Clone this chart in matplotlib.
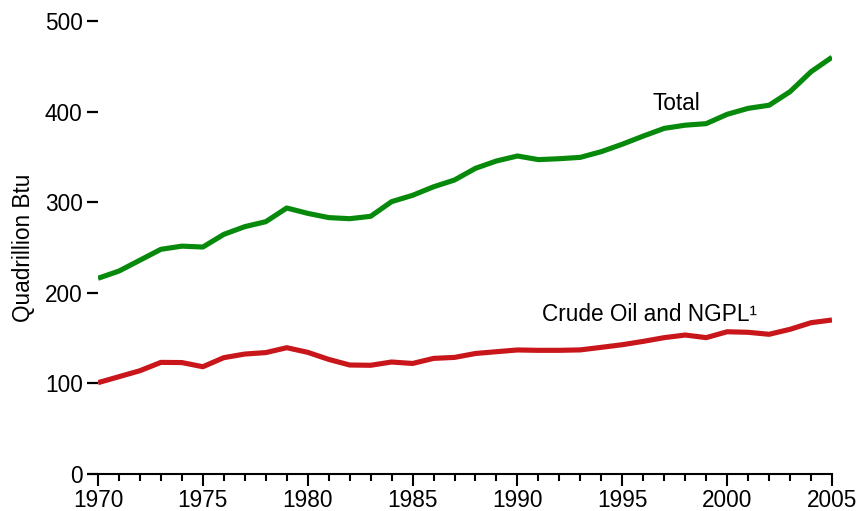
import matplotlib
matplotlib.use("Agg")
import matplotlib.pyplot as plt
from matplotlib.ticker import MultipleLocator

plt.rcParams['font.family'] = ['Liberation Sans', 'DejaVu Sans']

years = list(range(1970, 2006))
total = [216, 224, 236, 248, 251.5, 250.5, 264.5, 273, 278.5, 293.6,
         287.7, 283, 281.8, 284.4, 300.6, 307.6, 317, 324.5, 337.4, 345.5,
         351, 347, 348, 349.5, 355.8, 364, 373, 381.5, 385, 386.7,
         397, 403.6, 407, 422, 444, 460]
crude = [100.8, 107.4, 114, 123.2, 123, 118.4, 128.4, 132.4, 134, 139.4,
         134.3, 126.5, 120.3, 120, 123.6, 122, 127.6, 128.7, 133, 135,
         136.9, 136.5, 136.5, 137, 139.8, 142.7, 146.4, 150.5, 153.4, 150.5,
         157, 156.4, 154.2, 159.7, 167, 170]
yticks = [0, 100, 200, 300, 400, 500]
xticks = [1970, 1975, 1980, 1985, 1990, 1995, 2000, 2005]

FS = 16.3

fig = plt.figure(figsize=(8.6, 5.11), dpi=100)
ax = fig.add_axes([98/860, 37/511, (832-98)/860, (474-21)/511])

ax.plot(years, total, color='#078a0b', lw=3.7, solid_capstyle='butt', solid_joinstyle='round')
ax.plot(years, crude, color='#c8161b', lw=3.7, solid_capstyle='butt', solid_joinstyle='round')

ax.set_xlim(1970, 2005)
ax.set_ylim(0, 500)
ax.set_xticks(xticks)
ax.xaxis.set_minor_locator(MultipleLocator(1))
ax.set_yticks(yticks)

for s in ['top', 'right', 'left']:
    ax.spines[s].set_visible(False)
ax.spines['bottom'].set_linewidth(1.5)

ax.tick_params(axis='x', which='major', direction='out', length=8.5, width=1.5,
               labelsize=FS, pad=2, colors='black')
ax.tick_params(axis='x', which='minor', direction='out', length=5, width=1.5)
ax.tick_params(axis='y', which='major', direction='out', length=8, width=1.6,
               labelsize=FS, pad=3)

ax.set_ylabel('Quadrillion Btu', fontsize=FS, labelpad=7)

ax.text(1997.6, 409, 'Total', fontsize=FS, ha='center', va='center')
ax.text(1996.3, 175.5, 'Crude Oil and NGPL¹', fontsize=FS, ha='center', va='center')

fig.savefig('out.png', dpi=100)
